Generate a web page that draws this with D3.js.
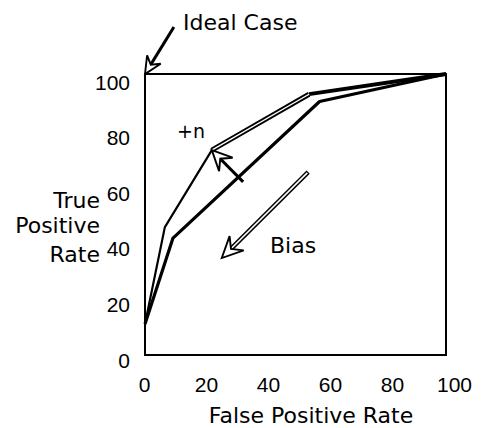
<!DOCTYPE html>
<html><head><meta charset="utf-8">
<script src="https://cdn.jsdelivr.net/npm/d3@7"></script>
<style>html,body{margin:0;padding:0;background:#fff;}</style>
</head><body>
<svg id="c" width="481" height="428"></svg>
<script>
// ---- data (percent) ----
const xTicks = [0, 20, 40, 60, 80, 100];
const yTicks = [0, 20, 40, 60, 80, 100];
const upperCurve = [[0, 11], [6.6, 45.5], [22.2, 72.9], [54.5, 92.8], [100, 100]];
const lowerCurve = [[0, 11], [9.3, 41.6], [58, 90.2], [100, 100]];
const idealArrow = {from: [9.6, 116.7], to: [0, 100]};
const plusNArrow = {from: [32.6, 61.6], to: [22.2, 72.9]};
const biasArrow = {from: [54.2, 65.1], to: [25.5, 34.5]};
const xTitle = "False Positive Rate";
const yTitle = ["True", "Positive", "Rate"];
const labels = {ideal: "Ideal Case", plusN: "+n", bias: "Bias"};

const svg = d3.select("#c");
const x = d3.scaleLinear().domain([0, 100]).range([145, 446]);
const y = d3.scaleLinear().domain([0, 100]).range([355, 74]);
// tick label placement (labels slightly offset from frame in original)
const xl = d3.scaleLinear().domain([0, 100]).range([144, 454]);
const yl = d3.scaleLinear().domain([0, 100]).range([359.5, 81.7]);

const tickFont = "'Liberation Sans', Arial, sans-serif";
const labFont = "'DejaVu Sans', sans-serif";

// frame
svg.append("rect").attr("x", x(0)).attr("y", y(100))
  .attr("width", x(100) - x(0)).attr("height", y(0) - y(100))
  .attr("fill", "none").attr("stroke", "#000").attr("stroke-width", 2);

// tick labels via axes
const xAxis = d3.axisBottom(xl).tickValues(xTicks).tickSize(0).tickPadding(0).tickFormat(d3.format("d"));
const gx = svg.append("g").attr("transform", "translate(0,392)").call(xAxis);
gx.select(".domain").remove();
gx.selectAll("text").attr("dy", 0).attr("y", 0)
  .style("font-family", tickFont).style("font-size", "21px").attr("fill", "#000");

const yAxis = d3.axisLeft(yl).tickValues(yTicks).tickSize(0).tickPadding(0).tickFormat(d3.format("d"));
const gy = svg.append("g").attr("transform", "translate(130,0)").call(yAxis);
gy.select(".domain").remove();
gy.selectAll("text").attr("x", 0).attr("dy", "0.36em")
  .style("font-family", tickFont).style("font-size", "21px").attr("fill", "#000");

// axis titles
svg.append("text").attr("x", 311).attr("y", 423).attr("text-anchor", "middle")
  .style("font-family", labFont).style("font-size", "22px").text(xTitle);
const yBase = [208, 233, 262];
yTitle.forEach((t, i) => {
  svg.append("text").attr("x", 100).attr("y", yBase[i]).attr("text-anchor", "end")
    .style("font-family", labFont).style("font-size", "22px").text(t);
});

const line = d3.line().x(d => x(d[0])).y(d => y(d[1]));

// lower curve (thick)
svg.append("path").datum(lowerCurve).attr("d", line)
  .attr("fill", "none").attr("stroke", "#000").attr("stroke-width", 3.2).attr("stroke-linejoin", "round");

// upper curve: thin on left part, double line in middle, thick at end
svg.append("path").datum(upperCurve.slice(0, 3)).attr("d", line)
  .attr("fill", "none").attr("stroke", "#000").attr("stroke-width", 2.2).attr("stroke-linejoin", "miter");
svg.append("path").datum(upperCurve.slice(3)).attr("d", line)
  .attr("fill", "none").attr("stroke", "#000").attr("stroke-width", 3.8);
const mid = upperCurve.slice(2, 4);
svg.append("path").datum(mid).attr("d", line)
  .attr("fill", "none").attr("stroke", "#000").attr("stroke-width", 5).attr("stroke-linecap", "butt");
svg.append("path").datum(mid).attr("d", line)
  .attr("fill", "none").attr("stroke", "#fff").attr("stroke-width", 1.4).attr("stroke-linecap", "butt");

// arrows
function arrow(a, opt) {
  const x0 = x(a.from[0]), y0 = y(a.from[1]), x1 = x(a.to[0]), y1 = y(a.to[1]);
  const dx = x1 - x0, dy = y1 - y0, len = Math.hypot(dx, dy);
  const ux = dx / len, uy = dy / len, px = -uy, py = ux;
  const L = opt.L, W = opt.W, N = opt.N;
  const bx = x1 - ux * L, by = y1 - uy * L;
  const nx = x1 - ux * N, ny = y1 - uy * N;
  if (opt.double) {
    svg.append("line").attr("x1", x0).attr("y1", y0).attr("x2", nx).attr("y2", ny)
      .attr("stroke", "#000").attr("stroke-width", opt.sw);
    svg.append("line").attr("x1", x0 + ux * 1.2).attr("y1", y0 + uy * 1.2).attr("x2", nx + ux * 2).attr("y2", ny + uy * 2)
      .attr("stroke", "#fff").attr("stroke-width", opt.sw - 3);
  } else {
    svg.append("line").attr("x1", x0).attr("y1", y0).attr("x2", nx).attr("y2", ny)
      .attr("stroke", "#000").attr("stroke-width", opt.sw);
  }
  const pts = [[x1, y1], [bx + px * W, by + py * W], [nx, ny], [bx - px * W, by - py * W]];
  svg.append("path").attr("d", "M" + pts.map(p => p.join(",")).join("L") + "Z")
    .attr("fill", "#fff").attr("stroke", "#000").attr("stroke-width", 1.9).attr("stroke-linejoin", "miter");
}
arrow(idealArrow, {L: 17, W: 8, N: 11, sw: 3});
arrow(plusNArrow, {L: 20, W: 9.5, N: 12, sw: 3});
arrow(biasArrow, {L: 21, W: 10, N: 13, sw: 4.6, double: true});

// annotation labels
svg.append("text").attr("x", 183).attr("y", 30)
  .style("font-family", labFont).style("font-size", "22px").text(labels.ideal);
svg.append("text").attr("x", 177).attr("y", 138)
  .style("font-family", labFont).style("font-size", "19px").text(labels.plusN);
svg.append("text").attr("x", 270).attr("y", 253)
  .style("font-family", labFont).style("font-size", "22px").text(labels.bias);
</script>
</body></html>
